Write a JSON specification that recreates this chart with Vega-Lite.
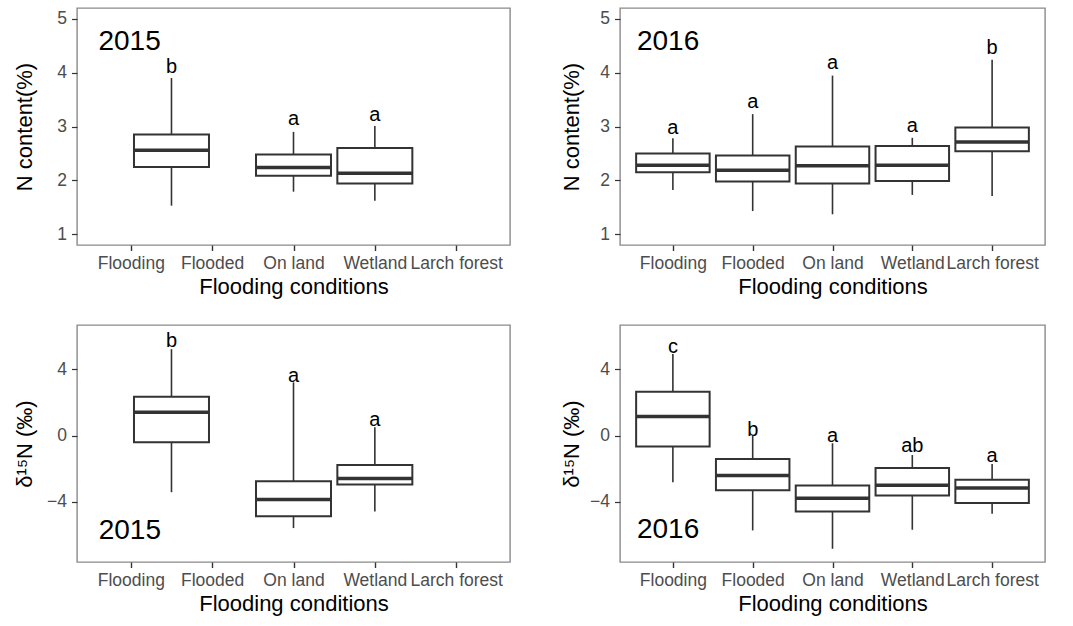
{
  "$schema": "https://vega.github.io/schema/vega-lite/v6.json",
  "background": "white",
  "padding": {"left": 12, "top": 7, "right": 10, "bottom": 10},
  "datasets": {
    "boxes": [
      {"panel": "N2015", "condition": "Flooding", "pos": 1.5, "min": 1.53, "q1": 2.25, "median": 2.56, "q3": 2.85, "max": 3.9, "group": "b", "labelY": 4.0},
      {"panel": "N2015", "condition": "On land", "pos": 3, "min": 1.79, "q1": 2.085, "median": 2.24, "q3": 2.48, "max": 2.9, "group": "a", "labelY": 3.02},
      {"panel": "N2015", "condition": "Wetland", "pos": 4, "min": 1.62, "q1": 1.94, "median": 2.13, "q3": 2.6, "max": 3.01, "group": "a", "labelY": 3.11},
      {"panel": "N2016", "condition": "Flooding", "pos": 1, "min": 1.82, "q1": 2.15, "median": 2.28, "q3": 2.5, "max": 2.78, "group": "a", "labelY": 2.87},
      {"panel": "N2016", "condition": "Flooded", "pos": 2, "min": 1.43, "q1": 1.98, "median": 2.19, "q3": 2.46, "max": 3.23, "group": "a", "labelY": 3.34},
      {"panel": "N2016", "condition": "On land", "pos": 3, "min": 1.37, "q1": 1.94, "median": 2.27, "q3": 2.63, "max": 3.945, "group": "a", "labelY": 4.07},
      {"panel": "N2016", "condition": "Wetland", "pos": 4, "min": 1.73, "q1": 1.99, "median": 2.28, "q3": 2.64, "max": 2.79, "group": "a", "labelY": 2.89},
      {"panel": "N2016", "condition": "Larch forest", "pos": 5, "min": 1.71, "q1": 2.54, "median": 2.71, "q3": 2.98, "max": 4.24, "group": "b", "labelY": 4.35},
      {"panel": "d2015", "condition": "Flooding", "pos": 1.5, "min": -3.42, "q1": -0.4, "median": 1.41, "q3": 2.35, "max": 5.23, "group": "b", "labelY": 5.37},
      {"panel": "d2015", "condition": "On land", "pos": 3, "min": -5.59, "q1": -4.87, "median": -3.86, "q3": -2.76, "max": 3.22, "group": "a", "labelY": 3.26},
      {"panel": "d2015", "condition": "Wetland", "pos": 4, "min": -4.58, "q1": -2.96, "median": -2.59, "q3": -1.77, "max": 0.5, "group": "a", "labelY": 0.6},
      {"panel": "d2016", "condition": "Flooding", "pos": 1, "min": -2.82, "q1": -0.66, "median": 1.15, "q3": 2.65, "max": 4.93, "group": "c", "labelY": 5.02},
      {"panel": "d2016", "condition": "Flooded", "pos": 2, "min": -5.73, "q1": -3.3, "median": -2.41, "q3": -1.41, "max": 0.0, "group": "b", "labelY": 0.0},
      {"panel": "d2016", "condition": "On land", "pos": 3, "min": -6.84, "q1": -4.58, "median": -3.78, "q3": -3.02, "max": -0.46, "group": "a", "labelY": -0.36},
      {"panel": "d2016", "condition": "Wetland", "pos": 4, "min": -5.69, "q1": -3.62, "median": -3.0, "q3": -1.95, "max": -1.17, "group": "ab", "labelY": -1.01},
      {"panel": "d2016", "condition": "Larch forest", "pos": 5, "min": -4.72, "q1": -4.08, "median": -3.16, "q3": -2.67, "max": -1.71, "group": "a", "labelY": -1.57}
    ],
    "years": [
      {"panel": "N2015", "pos": 0.985, "y": 4.42, "year": "2015"},
      {"panel": "N2016", "pos": 0.94, "y": 4.42, "year": "2016"},
      {"panel": "d2015", "pos": 0.988, "y": -6.23, "year": "2015"},
      {"panel": "d2016", "pos": 0.94, "y": -6.19, "year": "2016"}
    ]
  },
  "bounds": "flush",
  "columns": 2,
  "spacing": {"row": 80, "column": 110},
  "concat": [
    {
      "width": 433, "height": 237,
      "encoding": {
        "x": {"field": "pos", "type": "quantitative", "scale": {"domain": [0.4, 5.6], "nice": false, "zero": false}, "axis": {"values": [1, 2, 3, 4, 5], "ticks": true, "tickColor": "#333333", "tickSize": 5.5, "tickWidth": 1.4, "grid": true, "gridOpacity": 0, "zindex": 1}, "title": "Flooding conditions"}
      },
      "layer": [
        {"data": {"name": "boxes"}, "transform": [{"filter": "datum.panel == 'N2015'"}],
         "mark": {"type": "rule", "color": "#333333", "strokeWidth": 1.6},
         "encoding": {"y": {"field": "min", "type": "quantitative", "scale": {"domain": [0.8, 5.2], "nice": false, "zero": false}, "axis": {"values": [1, 2, 3, 4, 5], "titleX": -46}, "title": "N content(%)"}, "y2": {"field": "max"}}},
        {"data": {"name": "boxes"}, "transform": [{"filter": "datum.panel == 'N2015'"}],
         "mark": {"type": "bar", "fill": "white", "stroke": "#333333", "strokeWidth": 2, "size": 75},
         "encoding": {"y": {"field": "q1", "type": "quantitative", "title": "N content(%)"}, "y2": {"field": "q3"}}},
        {"data": {"name": "boxes"}, "transform": [{"filter": "datum.panel == 'N2015'"}],
         "mark": {"type": "tick", "orient": "horizontal", "color": "#333333", "opacity": 1, "thickness": 3.5, "size": 75},
         "encoding": {"y": {"field": "median", "type": "quantitative", "title": "N content(%)"}}},
        {"data": {"name": "boxes"}, "transform": [{"filter": "datum.panel == 'N2015'"}],
         "mark": {"type": "text", "font": "Liberation Sans", "fontSize": 20, "baseline": "alphabetic", "color": "black"},
         "encoding": {"y": {"field": "labelY", "type": "quantitative", "title": "N content(%)"}, "text": {"field": "group"}}},
        {"data": {"name": "years"}, "transform": [{"filter": "datum.panel == 'N2015'"}],
         "mark": {"type": "text", "font": "Liberation Sans", "fontSize": 28, "baseline": "alphabetic", "color": "black"},
         "encoding": {"y": {"field": "y", "type": "quantitative", "title": "N content(%)"}, "text": {"field": "year"}}}
      ]
    },
    {
      "width": 425, "height": 237,
      "encoding": {
        "x": {"field": "pos", "type": "quantitative", "scale": {"domain": [0.4, 5.6], "nice": false, "zero": false}, "axis": {"values": [1, 2, 3, 4, 5], "ticks": true, "tickColor": "#333333", "tickSize": 5.5, "tickWidth": 1.4, "grid": true, "gridOpacity": 0, "zindex": 1}, "title": "Flooding conditions"}
      },
      "layer": [
        {"data": {"name": "boxes"}, "transform": [{"filter": "datum.panel == 'N2016'"}],
         "mark": {"type": "rule", "color": "#333333", "strokeWidth": 1.6},
         "encoding": {"y": {"field": "min", "type": "quantitative", "scale": {"domain": [0.8, 5.2], "nice": false, "zero": false}, "axis": {"values": [1, 2, 3, 4, 5], "titleX": -42}, "title": "N content(%)"}, "y2": {"field": "max"}}},
        {"data": {"name": "boxes"}, "transform": [{"filter": "datum.panel == 'N2016'"}],
         "mark": {"type": "bar", "fill": "white", "stroke": "#333333", "strokeWidth": 2, "size": 73.5},
         "encoding": {"y": {"field": "q1", "type": "quantitative", "title": "N content(%)"}, "y2": {"field": "q3"}}},
        {"data": {"name": "boxes"}, "transform": [{"filter": "datum.panel == 'N2016'"}],
         "mark": {"type": "tick", "orient": "horizontal", "color": "#333333", "opacity": 1, "thickness": 3.5, "size": 73.5},
         "encoding": {"y": {"field": "median", "type": "quantitative", "title": "N content(%)"}}},
        {"data": {"name": "boxes"}, "transform": [{"filter": "datum.panel == 'N2016'"}],
         "mark": {"type": "text", "font": "Liberation Sans", "fontSize": 20, "baseline": "alphabetic", "color": "black"},
         "encoding": {"y": {"field": "labelY", "type": "quantitative", "title": "N content(%)"}, "text": {"field": "group"}}},
        {"data": {"name": "years"}, "transform": [{"filter": "datum.panel == 'N2016'"}],
         "mark": {"type": "text", "font": "Liberation Sans", "fontSize": 28, "baseline": "alphabetic", "color": "black"},
         "encoding": {"y": {"field": "y", "type": "quantitative", "title": "N content(%)"}, "text": {"field": "year"}}}
      ]
    },
    {
      "width": 433, "height": 237,
      "encoding": {
        "x": {"field": "pos", "type": "quantitative", "scale": {"domain": [0.4, 5.6], "nice": false, "zero": false}, "axis": {"values": [1, 2, 3, 4, 5], "ticks": true, "tickColor": "#333333", "tickSize": 5.5, "tickWidth": 1.4, "grid": true, "gridOpacity": 0, "zindex": 1}, "title": "Flooding conditions"}
      },
      "layer": [
        {"data": {"name": "boxes"}, "transform": [{"filter": "datum.panel == 'd2015'"}],
         "mark": {"type": "rule", "color": "#333333", "strokeWidth": 1.6},
         "encoding": {"y": {"field": "min", "type": "quantitative", "scale": {"domain": [-7.64, 6.69], "nice": false, "zero": false}, "axis": {"values": [-4, 0, 4], "titleX": -46}, "title": "δ¹⁵N (‰)"}, "y2": {"field": "max"}}},
        {"data": {"name": "boxes"}, "transform": [{"filter": "datum.panel == 'd2015'"}],
         "mark": {"type": "bar", "fill": "white", "stroke": "#333333", "strokeWidth": 2, "size": 75},
         "encoding": {"y": {"field": "q1", "type": "quantitative", "title": "δ¹⁵N (‰)"}, "y2": {"field": "q3"}}},
        {"data": {"name": "boxes"}, "transform": [{"filter": "datum.panel == 'd2015'"}],
         "mark": {"type": "tick", "orient": "horizontal", "color": "#333333", "opacity": 1, "thickness": 3.5, "size": 75},
         "encoding": {"y": {"field": "median", "type": "quantitative", "title": "δ¹⁵N (‰)"}}},
        {"data": {"name": "boxes"}, "transform": [{"filter": "datum.panel == 'd2015'"}],
         "mark": {"type": "text", "font": "Liberation Sans", "fontSize": 20, "baseline": "alphabetic", "color": "black"},
         "encoding": {"y": {"field": "labelY", "type": "quantitative", "title": "δ¹⁵N (‰)"}, "text": {"field": "group"}}},
        {"data": {"name": "years"}, "transform": [{"filter": "datum.panel == 'd2015'"}],
         "mark": {"type": "text", "font": "Liberation Sans", "fontSize": 28, "baseline": "alphabetic", "color": "black"},
         "encoding": {"y": {"field": "y", "type": "quantitative", "title": "δ¹⁵N (‰)"}, "text": {"field": "year"}}}
      ]
    },
    {
      "width": 425, "height": 237,
      "encoding": {
        "x": {"field": "pos", "type": "quantitative", "scale": {"domain": [0.4, 5.6], "nice": false, "zero": false}, "axis": {"values": [1, 2, 3, 4, 5], "ticks": true, "tickColor": "#333333", "tickSize": 5.5, "tickWidth": 1.4, "grid": true, "gridOpacity": 0, "zindex": 1}, "title": "Flooding conditions"}
      },
      "layer": [
        {"data": {"name": "boxes"}, "transform": [{"filter": "datum.panel == 'd2016'"}],
         "mark": {"type": "rule", "color": "#333333", "strokeWidth": 1.6},
         "encoding": {"y": {"field": "min", "type": "quantitative", "scale": {"domain": [-7.64, 6.69], "nice": false, "zero": false}, "axis": {"values": [-4, 0, 4], "titleX": -42}, "title": "δ¹⁵N (‰)"}, "y2": {"field": "max"}}},
        {"data": {"name": "boxes"}, "transform": [{"filter": "datum.panel == 'd2016'"}],
         "mark": {"type": "bar", "fill": "white", "stroke": "#333333", "strokeWidth": 2, "size": 73.5},
         "encoding": {"y": {"field": "q1", "type": "quantitative", "title": "δ¹⁵N (‰)"}, "y2": {"field": "q3"}}},
        {"data": {"name": "boxes"}, "transform": [{"filter": "datum.panel == 'd2016'"}],
         "mark": {"type": "tick", "orient": "horizontal", "color": "#333333", "opacity": 1, "thickness": 3.5, "size": 73.5},
         "encoding": {"y": {"field": "median", "type": "quantitative", "title": "δ¹⁵N (‰)"}}},
        {"data": {"name": "boxes"}, "transform": [{"filter": "datum.panel == 'd2016'"}],
         "mark": {"type": "text", "font": "Liberation Sans", "fontSize": 20, "baseline": "alphabetic", "color": "black"},
         "encoding": {"y": {"field": "labelY", "type": "quantitative", "title": "δ¹⁵N (‰)"}, "text": {"field": "group"}}},
        {"data": {"name": "years"}, "transform": [{"filter": "datum.panel == 'd2016'"}],
         "mark": {"type": "text", "font": "Liberation Sans", "fontSize": 28, "baseline": "alphabetic", "color": "black"},
         "encoding": {"y": {"field": "y", "type": "quantitative", "title": "δ¹⁵N (‰)"}, "text": {"field": "year"}}}
      ]
    }
  ],
  "config": {
    "font": "Liberation Sans",
    "view": {"stroke": "#8a8a8a", "strokeWidth": 1.4},
    "axis": {
      "grid": false,
      "labelFont": "Liberation Sans",
      "labelFontSize": 17.5,
      "labelColor": "#4d4d4d",
      "tickColor": "#333333",
      "tickSize": 5.5,
      "tickWidth": 1.2,
      "titleFont": "Liberation Sans",
      "titleFontSize": 22,
      "titleFontWeight": "normal",
      "titleColor": "black"
    },
    "axisX": {
      "domain": false,
      "labelExpr": "['Flooding', 'Flooded', 'On land', 'Wetland', 'Larch forest'][datum.value - 1]",
      "labelOverlap": false,
      "labelFlush": false,
      "labelBound": false,
      "labelPadding": 4,
      "titlePadding": 4
    },
    "axisY": {
      "domain": false,
      "labelPadding": 5,
      "titleBaseline": "alphabetic"
    }
  }
}
